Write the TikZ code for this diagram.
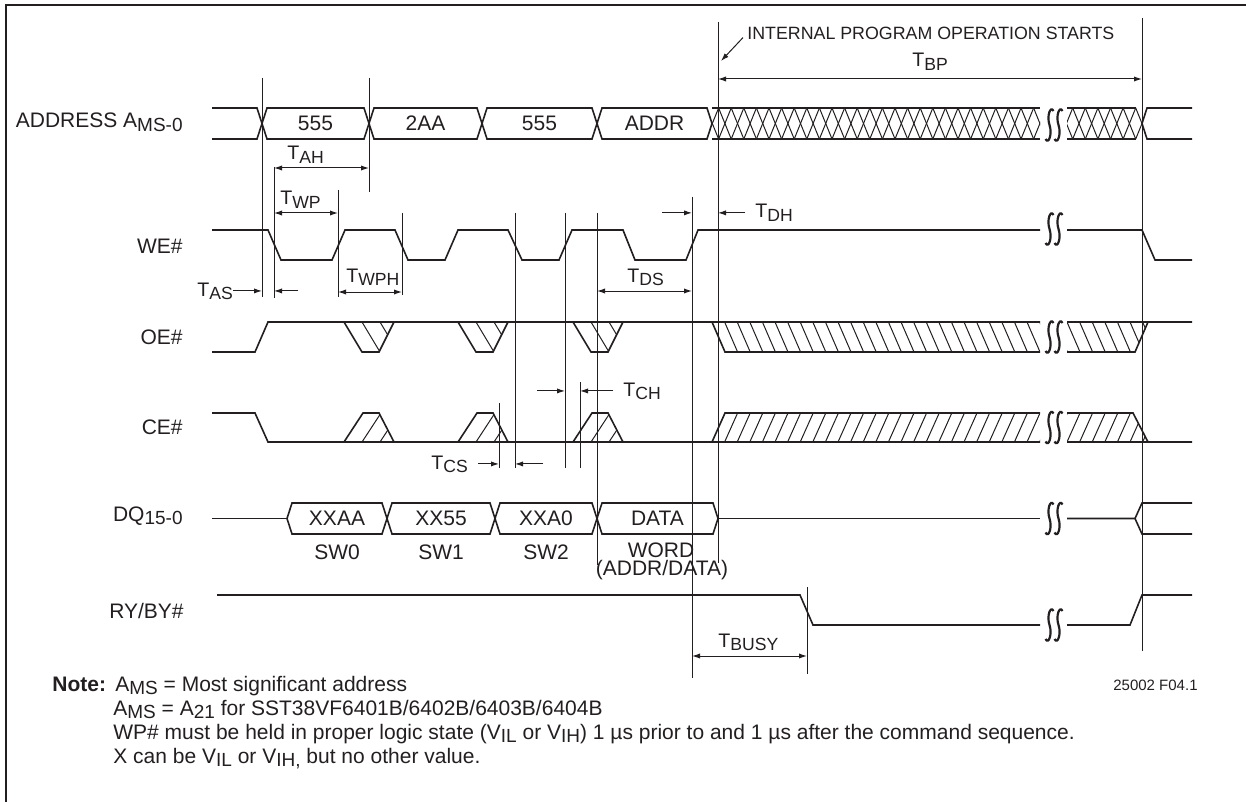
\documentclass[tikz,border=0pt]{standalone}
\usepackage{fontspec}
\setmainfont{Liberation Sans}
\usetikzlibrary{arrows.meta,calc}
\definecolor{ink}{RGB}{35,31,32}
\tikzstyle{sig}=[line width=0.8pt,draw=ink,line join=miter]
\tikzstyle{tline}=[line width=0.5pt,draw=ink]
\tikzstyle{hatch}=[line width=0.5pt,draw=ink]
\tikzstyle{brkmark}=[line width=1.1pt,draw=ink]
\tikzstyle{dimarrow}=[tline,{Latex[length=4pt,width=2.6pt]}-{Latex[length=4pt,width=2.6pt]}]
\tikzstyle{onetip}=[tline,-{Latex[length=4pt,width=2.6pt]}]
\tikzstyle{lbl}=[inner sep=0pt,text=ink,font=\fontsize{10.5}{12.6}\selectfont\def\subsz{9.5}]
\tikzstyle{tlbl}=[lbl,font=\fontsize{9.8}{11.5}\selectfont\def\subsz{8.8}]
\newcommand{\lsub}[1]{\raisebox{-1.6pt}{\fontsize{\subsz}{\subsz}\selectfont #1}}
\newcommand{\busseg}[6]{% name, x1, x2, ytop, ybot, text

\pgfmathsetmacro{\ym}{(#4+#5)/2}
\draw[sig] (#2,\ym) -- (#2+5,#4) -- (#3-5,#4) -- (#3,\ym) -- (#3-5,#5) -- (#2+5,#5) -- cycle;
\node[lbl] (#1) at ({(#2+#3)/2},\ym) {#6};
}
\newcommand{\sigbreak}[2]{% x, y of the break mark
\foreach \d in {-4.5,4.5} {
  \pgfmathsetmacro{\cx}{#1+\d}
  \draw[brkmark] (\cx+4,#2-14) .. controls (\cx+1,#2-20) and (\cx-3,#2-9) .. (\cx,#2)
    .. controls (\cx+3,#2+9) and (\cx-1,#2+20) .. (\cx-4,#2+14);
}
}
\newcommand{\oedip}[1]{% hatched dip on OE#
\begin{scope}
\clip (#1,322) -- (#1+18,352) -- (#1+35,352) -- (#1+50,322) -- cycle;
\foreach \k in {1,2} \draw[hatch] (#1+18*\k,322) -- (#1+18*\k+18,352);
\end{scope}
\draw[sig] (#1,322) -- (#1+18,352) -- (#1+35,352) -- (#1+50,322);
}
\newcommand{\cebump}[1]{% hatched bump on CE#
\begin{scope}
\clip (#1,442) -- (#1+19,413) -- (#1+35,413) -- (#1+50,442) -- cycle;
\foreach \k in {1,2} \draw[hatch] (#1+18*\k,442) -- (#1+18*\k+19,413);
\end{scope}
\draw[sig] (#1,442) -- (#1+19,413) -- (#1+35,413) -- (#1+50,442);
}
\begin{document}
\begin{tikzpicture}[x=0.5pt,y=-0.5pt] % one unit = one pixel of the sheet
\useasboundingbox (0,0) rectangle (1246,802);
\draw[ink,line width=0.7pt] (6,802) -- (6,5) -- (1246,5); % frame

% timing lines: name/x/top/bottom
\foreach \n/\x/\ya/\yb in {mA/262/78/297,mB/274/167/298,mC/338/190/297,mD/369/78/192,
  mE/402/213/295,mF/499/403/468,mG/515/213/468,mH/565/213/468,mI/580/382/468,
  mJ/597/213/565,mK/692/197/678,mL/718/22/563,mM/807/587/674,mN/1142/18/651} {
  \coordinate (\n) at (\x,0);
  \draw[tline] (\n |- 0,\ya) -- (\n |- 0,\yb);
}

% signal names
\node[lbl,anchor=base east] (lAddr) at (183,128) {ADDRESS A\lsub{MS-0}};
\node[lbl,anchor=base east] (lWE) at (183,253) {WE\#};
\node[lbl,anchor=base east] (lOE) at (183,344) {OE\#};
\node[lbl,anchor=base east] (lCE) at (183,434) {CE\#};
\node[lbl,anchor=base east] (lDQ) at (183,521) {DQ\lsub{15-0}};
\node[lbl,anchor=base east] (lRY) at (184,618) {RY/BY\#};

% address bus
\draw[sig] (212,108) -- (257,108) -- (262,123.5) -- (257,139) -- (212,139);
\busseg{a1}{262}{369}{108}{139}{555}
\busseg{a2}{369}{482}{108}{139}{2AA}
\busseg{a3}{482}{597}{108}{139}{555}
\busseg{a4}{597}{712}{108}{139}{ADDR}
\draw[sig] (712,108) -- (1040,108) (712,139) -- (1040,139);
\begin{scope}
\clip (712,100) rectangle (1040,147);
\foreach \x in {706,718.6,...,1040} {
  \draw[hatch] (\x,108) -- (\x+12.6,139);
  \draw[hatch] (\x,139) -- (\x+12.6,108);
}
\end{scope}
\sigbreak{1054}{125}
\draw[sig] (1067,108) -- (1135.7,108) (1067,139) -- (1135.7,139);
\begin{scope}
\clip (1067,100) rectangle (1142,147);
\foreach \x in {1060.1,1072.7,...,1136} {
  \draw[hatch] (\x,108) -- (\x+12.6,139);
  \draw[hatch] (\x,139) -- (\x+12.6,108);
}
\end{scope}
\draw[sig] (1142,123.5) -- (1147,108) -- (1192,108) (1142,123.5) -- (1147,139) -- (1192,139);

% WE#
\draw[sig] (212,230) -- (268,230) -- (281,260) -- (332,260) -- (345,230) -- (395,230) -- (408,260)
  -- (445,260) -- (458,230) -- (508,230) -- (522,260) -- (559,260) -- (572,230) -- (623,230)
  -- (635,260) -- (686,260) -- (698,230) -- (1040,230);
\sigbreak{1054}{229}
\draw[sig] (1067,230) -- (1142,230) -- (1155,260) -- (1192,260);

% OE#
\draw[sig] (212,352) -- (255,352) -- (268,322) -- (1040,322);
\foreach \s in {344,458,573} {\oedip{\s}}
\begin{scope}
\clip (712,322) -- (1040,322) -- (1040,352) -- (725,352) -- cycle;
\foreach \x in {724.6,737.2,...,1040} \draw[hatch] (\x,322) -- (\x+13,352);
\end{scope}
\draw[sig] (712,322) -- (725,352) -- (1040,352);
\sigbreak{1054}{337}
\begin{scope}
\clip (1067,322) -- (1148,322) -- (1135,352) -- (1067,352) -- cycle;
\foreach \x in {1054.4,1067,...,1148} \draw[hatch] (\x,322) -- (\x+13,352);
\end{scope}
\draw[sig] (1067,322) -- (1192,322) (1067,352) -- (1135,352) -- (1148,322);

% CE#
\draw[sig] (212,413) -- (255,413) -- (268,442) -- (1040,442);
\foreach \s in {344,458,573} {\cebump{\s}}
\begin{scope}
\clip (712,442) -- (725,413) -- (1040,413) -- (1040,442) -- cycle;
\foreach \x in {724.6,737.2,...,1040} \draw[hatch] (\x,442) -- (\x+13,413);
\end{scope}
\draw[sig] (712,442) -- (725,413) -- (1040,413);
\sigbreak{1054}{427.5}
\begin{scope}
\clip (1067,413) -- (1133,413) -- (1148,442) -- (1067,442) -- cycle;
\foreach \x in {1054.4,1067,...,1148} \draw[hatch] (\x,442) -- (\x+13,413);
\end{scope}
\draw[sig] (1067,442) -- (1192,442) (1067,413) -- (1133,413) -- (1148,442);

% DQ15-0
\draw[sig] (212,518.5) -- (287,518.5);
\busseg{d1}{287}{387}{503}{534}{XXAA}
\busseg{d2}{387}{495}{503}{534}{XX55}
\busseg{d3}{495}{597}{503}{534}{XXA0}
\busseg{d4}{597}{718}{503}{534}{DATA}
\draw[sig] (718,518.5) -- (1040,518.5);
\sigbreak{1054}{518.5}
\draw[sig] (1067,518.5) -- (1135,518.5) -- (1142,503) -- (1192,503) (1135,518.5) -- (1142,534) -- (1192,534);
\node[lbl,anchor=base] (sw0) at (d1 |- 0,559) {SW0};
\node[lbl,anchor=base] (sw1) at (d2 |- 0,559) {SW1};
\node[lbl,anchor=base] (sw2) at (d3 |- 0,559) {SW2};
\node[lbl,anchor=base] (word) at (661,557) {WORD};
\node[lbl,anchor=base] (wordad) at (662,575) {(ADDR/DATA)};

% RY/BY#
\draw[sig] (217,595) -- (800,595) -- (813,625) -- (1040,625);
\sigbreak{1054}{625}
\draw[sig] (1067,625) -- (1130,625) -- (1142,595) -- (1192,595);

% timing parameters
\node[tlbl,anchor=base west] (tAH) at (287,160) {T\lsub{AH}};
\draw[dimarrow] (mB |- 0,168) -- (mD |- 0,168);
\node[tlbl,anchor=base west] (tWP) at (280,205) {T\lsub{WP}};
\draw[dimarrow] (mB |- 0,213) -- (mC |- 0,213);
\node[tlbl,anchor=base west] (tAS) at (197,296) {T\lsub{AS}};
\draw[onetip] (tAS.east) -- (mA |- tAS.east);
\draw[onetip] ($(mB |- tAS.east)+(24,0)$) -- (mB |- tAS.east);
\node[tlbl,anchor=base west] (tWPH) at (346,282) {T\lsub{WPH}};
\draw[dimarrow] (mC |- 0,292) -- (mE |- 0,292);
\node[tlbl,anchor=base west] (tDS) at (627,282) {T\lsub{DS}};
\draw[dimarrow] (mJ |- 0,291) -- (mK |- 0,291);
\node[tlbl,anchor=base west] (tDH) at (755,218) {T\lsub{DH}};
\draw[onetip] ($(mK |- tDH.west)+(-30,0)$) -- (mK |- tDH.west);
\draw[onetip] ($(tDH.west)+(-10,0)$) -- (mL |- tDH.west);
\node[tlbl,anchor=base west] (tCH) at (623,396) {T\lsub{CH}};
\draw[onetip] ($(mH |- tCH.west)+(-28,0)$) -- (mH |- tCH.west);
\draw[onetip] ($(tCH.west)+(-10,0)$) -- (mI |- tCH.west);
\node[tlbl,anchor=base west] (tCS) at (431,469) {T\lsub{CS}};
\draw[onetip] ($(tCS.east)+(10,0)$) -- (mF |- tCS.east);
\draw[onetip] ($(mG |- tCS.east)+(28,0)$) -- (mG |- tCS.east);
\node[tlbl,anchor=base west] (tBUSY) at (718,647) {T\lsub{BUSY}};
\draw[dimarrow] (mK |- 0,656) -- (mM |- 0,656);
\node[tlbl,anchor=base west] (tBP) at (912,67) {T\lsub{BP}};
\draw[dimarrow] (mL |- 0,79) -- (mN |- 0,79);

\node[lbl,font=\fontsize{8.9}{10.5}\selectfont,anchor=base west] (ipo) at (747,40) {INTERNAL PROGRAM OPERATION STARTS};
\draw[onetip] ($(ipo.south west)+(-4,-3)$) -- ($(mL |- 0,61)+(3,0)$);
\node[lbl,font=\fontsize{7.5}{9}\selectfont,anchor=base east] (figno) at (1198,690) {25002 F04.1};

% note
\node[lbl,anchor=base west] (note) at (52,691) {\textbf{Note:}};
\node[lbl,anchor=base west] (n1) at (115,691) {A\lsub{MS} = Most significant address};
\node[lbl,anchor=base west] (n2) at (113,715) {A\lsub{MS} = A\lsub{21} for SST38VF6401B/6402B/6403B/6404B};
\node[lbl,anchor=base west] (n3) at (113,739) {WP\# must be held in proper logic state (V\lsub{IL} or V\lsub{IH}) 1 µs prior to and 1 µs after the command sequence.};
\node[lbl,anchor=base west] (n4) at (113,763) {X can be V\lsub{IL} or V\lsub{IH,} but no other value.};
\end{tikzpicture}
\end{document}
